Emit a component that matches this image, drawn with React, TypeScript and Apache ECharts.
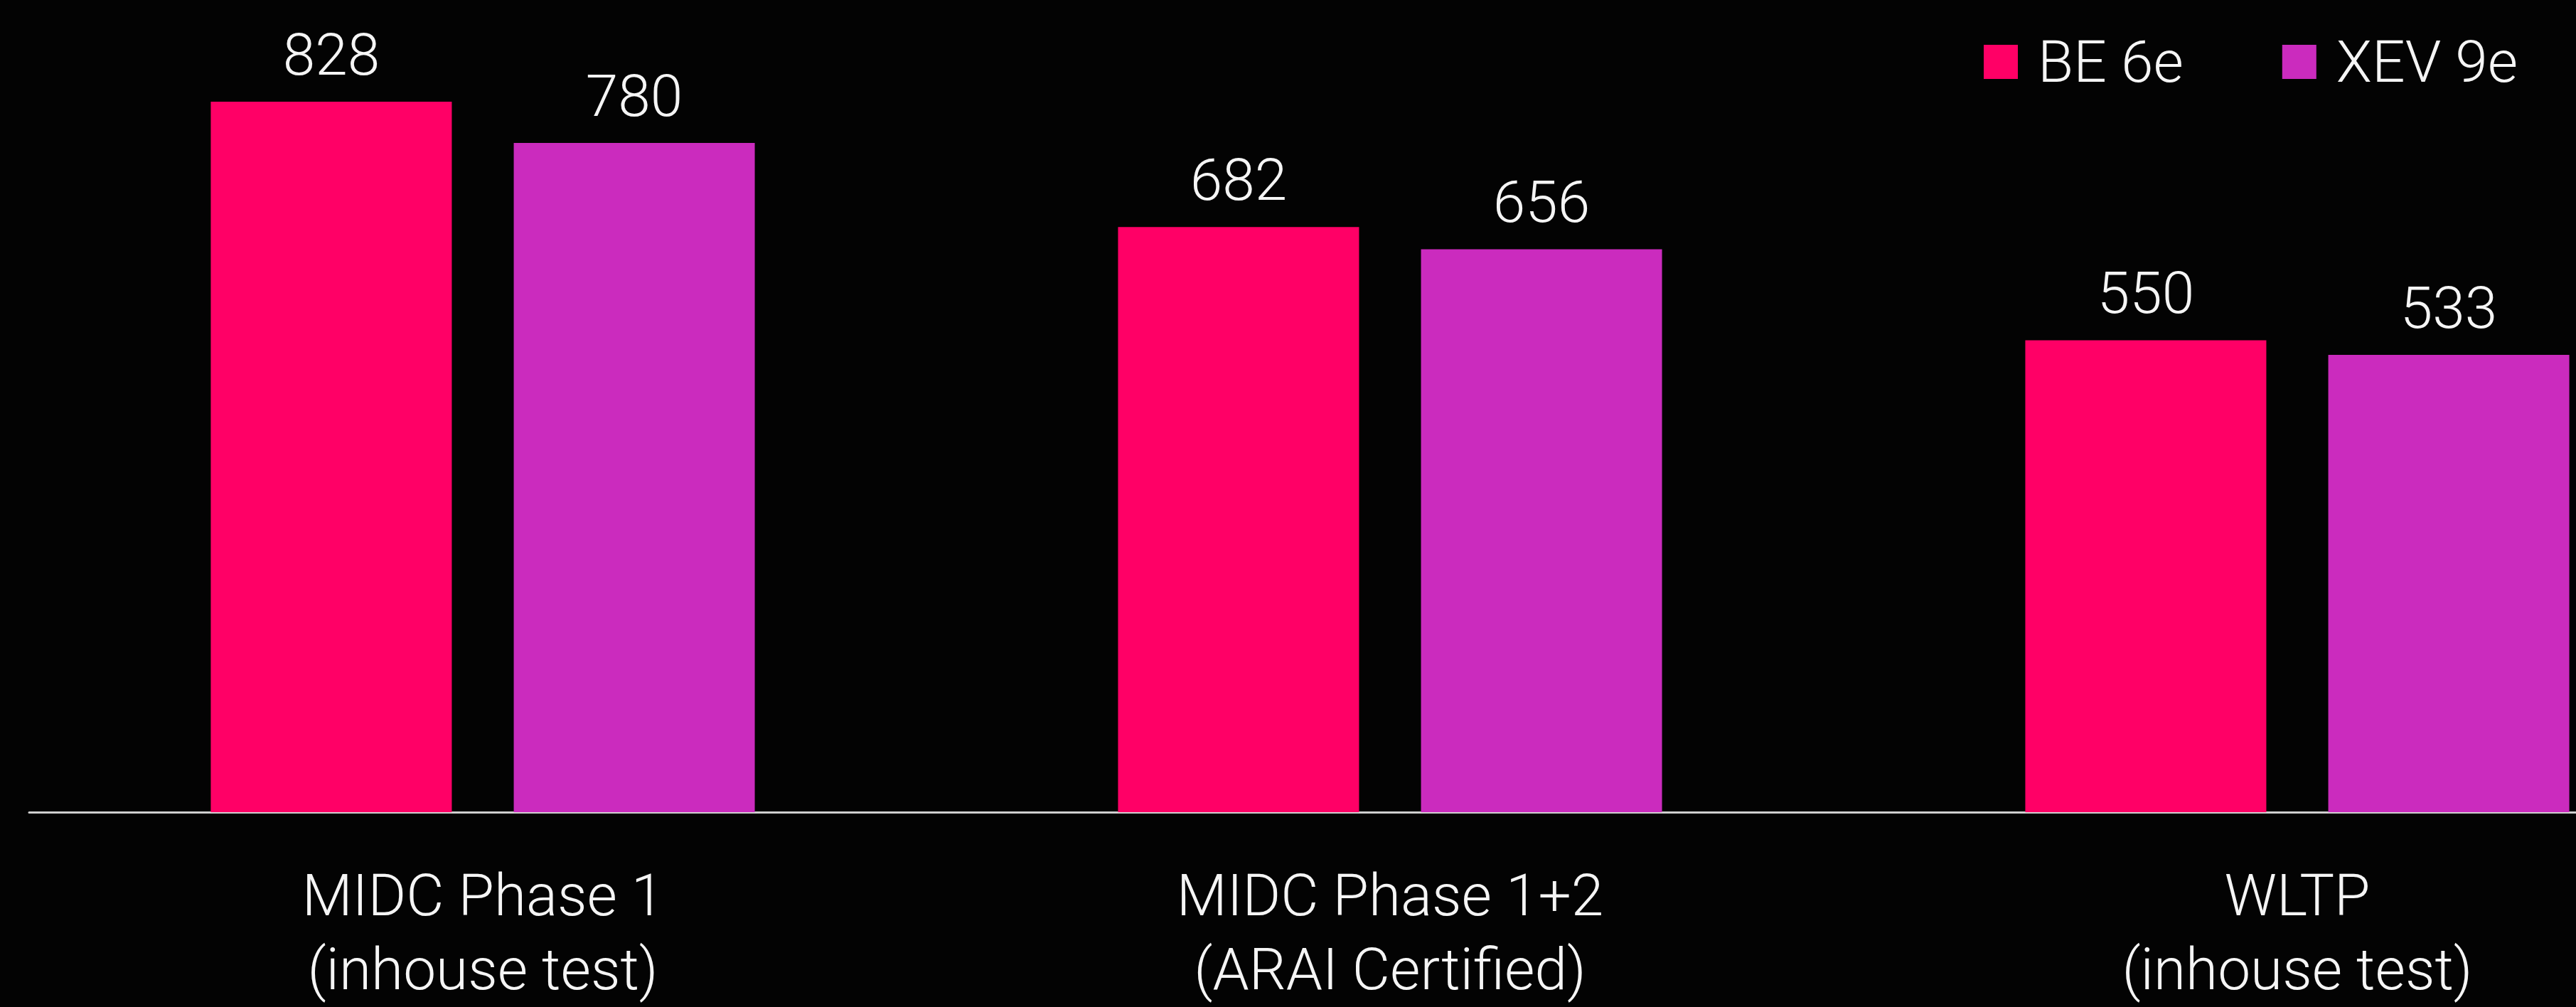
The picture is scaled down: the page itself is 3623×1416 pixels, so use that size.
import React, { useEffect, useRef } from "react";
import * as echarts from "echarts";

const categories = [
  "MIDC Phase 1\n(inhouse test)",
  "MIDC Phase 1+2\n(ARAI Certified)",
  "WLTP\n(inhouse test)",
];
const seriesNames = ["BE 6e", "XEV 9e"];
const be6eValues = [828, 682, 550];
const xev9eValues = [780, 656, 533];
const seriesColors = ["#FF0066", "#CB2BBE"];

const FONT = "Roboto, 'Open Sans', sans-serif";

export default function App() {
  const ref = useRef<HTMLDivElement>(null);

  useEffect(() => {
    document.body.style.margin = "0";
    document.body.style.background = "#030303";
    const chart = echarts.init(ref.current!, undefined, { renderer: "svg" });
    const labelStyle = {
      show: true,
      position: "top" as const,
      distance: 25,
      color: "#f5f5f5",
      fontSize: 82,
      fontWeight: 300,
      fontFamily: FONT,
      lineHeight: 82,
    };
    chart.setOption({
      animation: false,
      backgroundColor: "#030303",
      legend: {
        data: seriesNames,
        left: 2785,
        top: 41,
        icon: "rect",
        itemWidth: 48,
        itemHeight: 48,
        itemGap: 139,
        textStyle: {
          color: "#f5f5f5",
          fontSize: 82,
          fontWeight: 300,
          fontFamily: FONT,
          lineHeight: 48,
          padding: [0, 0, 0, 23],
        },
      },
      grid: { left: 41, right: 31, top: 56.1, bottom: 274 },
      xAxis: {
        type: "category",
        data: categories,
        axisTick: { show: false },
        axisLine: { show: true, lineStyle: { color: "#cfcfcf", width: 3 } },
        axisLabel: {
          color: "#f5f5f5",
          fontSize: 82,
          fontWeight: 300,
          fontFamily: FONT,
          lineHeight: 104,
          margin: 65,
          interval: 0,
        },
      },
      yAxis: {
        type: "value",
        min: 0,
        max: 900,
        show: false,
        splitLine: { show: false },
      },
      series: [
        {
          name: seriesNames[0],
          type: "bar",
          data: be6eValues,
          barWidth: 339,
          barGap: "25.7%",
          itemStyle: { color: seriesColors[0] },
          label: labelStyle,
        },
        {
          name: seriesNames[1],
          type: "bar",
          data: xev9eValues,
          barWidth: 339,
          barGap: "25.7%",
          itemStyle: { color: seriesColors[1] },
          label: labelStyle,
        },
      ],
    });
    return () => chart.dispose();
  }, []);

  return (
    <div
      style={{
        position: "fixed",
        left: 0,
        top: 0,
        width: 3623,
        height: 1416,
        overflow: "hidden",
        background: "#030303",
      }}
    >
      <div ref={ref} style={{ width: 3900, height: 1416 }} />
    </div>
  );
}
